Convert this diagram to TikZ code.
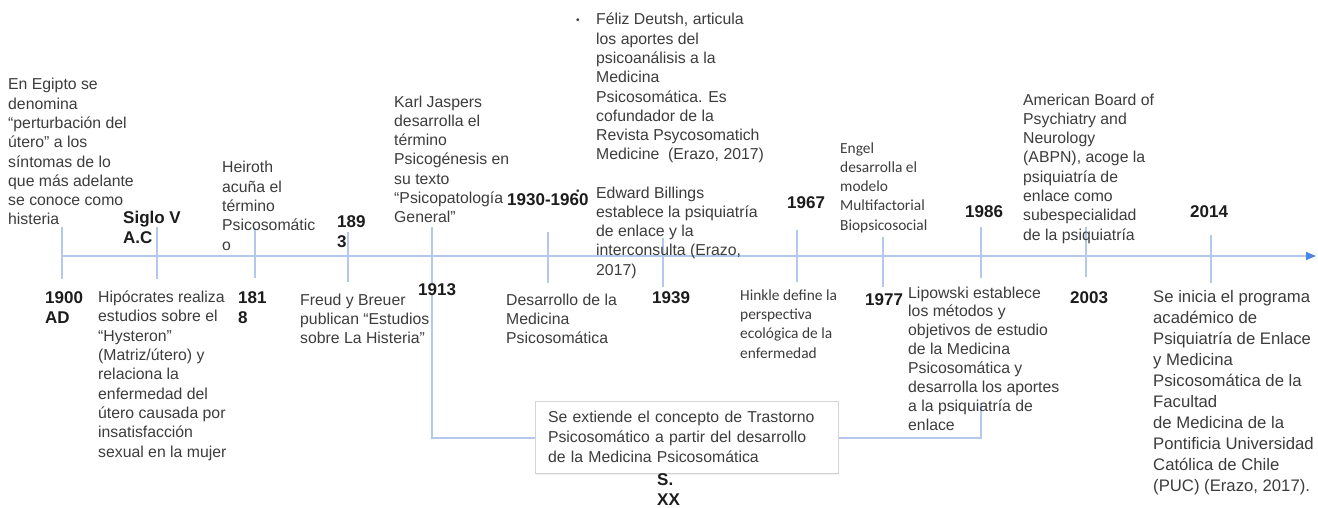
\documentclass[tikz,border=0pt]{standalone}
\usepackage{fontspec}
\setmainfont{Liberation Sans}
\newfontfamily\calfont{Carlito}
\usetikzlibrary{arrows.meta,shadows}
\definecolor{lineblue}{HTML}{B4C8EC}
\definecolor{tipblue}{HTML}{4A86E8}
\definecolor{txtgray}{HTML}{3C3C3C}
\definecolor{yeargray}{HTML}{1C1C1C}
\definecolor{boxgray}{HTML}{D4D4D4}
\begin{document}
\begin{tikzpicture}[x=1pt,y=-1pt]
        \tikzstyle{event}=[anchor=base west,align=left,inner sep=0pt,text=txtgray,font=\fontsize{15.8}{19.3}\selectfont]
        \tikzstyle{small}=[event,font=\calfont\fontsize{15.4}{19.3}\selectfont]
        \tikzstyle{year}=[anchor=base west,align=left,inner sep=0pt,text=yeargray,font=\bfseries\fontsize{17}{20}\selectfont]
        \tikzstyle{tick}=[draw=lineblue,line width=1.2pt]
        \tikzstyle{note}=[draw=boxgray,fill=white,line width=0.8pt,text width=277pt,align=left,inner xsep=13pt,minimum height=72pt,
          text=txtgray,font=\fontsize{15.8}{20}\selectfont,drop shadow={opacity=0.12,shadow xshift=1pt,shadow yshift=-1.5pt}]
        \useasboundingbox (0,0) rectangle (1318,508);
        % axis and ticks
        \coordinate (start) at (62,256);
        \coordinate (end) at (1316,256);
        \draw[tick,-{Triangle[length=10pt,width=8pt,color=tipblue]}] (start) -- (end);
        \foreach \x/\t/\b in {62/227/279,157/227/279,255/228/278,348/232/282,548/232/283,663/238/287,
                              797/230/282,883/237/287,981/227/278,1086/227/277,1211/235/283}
           \draw[tick] (\x,\t) -- (\x,\b);
        % bracket to the box
        \coordinate (lt) at (432,227);
        \coordinate (lb) at (432,438);
        \coordinate (rb) at (981,438);
        \coordinate (rt) at (981,403);
        \draw[tick] (lt) -- (lb) -- (rb) -- (rt);
        \node[note] (trastorno) at (686.5,437) {Se extiende el concepto de Trastorno\\Psicosomático a partir del desarrollo\\de la Medicina Psicosomática};

        % years (base = last line)
        \node[year] (y1900) at (45,323) {1900\\AD};
        \node[year] (sigloV) at (123,243) {Siglo V\\A.C};
        \node[year] (y1818) at (238,323) {181\\8};
        \node[year] (y1893) at (337,247) {189\\3};
        \node[year,fill=white] (y1913) at (418,295) {1913};
        \node[year] (y1930) at (507,205) {1930-1960};
        \node[year] (y1939) at (652,303) {1939};
        \node[year] (y1967) at (787,208) {1967};
        \node[year] (y1977) at (865,305) {1977};
        \node[year] (y1986) at (965,217) {1986};
        \node[year] (y2003) at (1070,303) {2003};
        \node[year] (y2014) at (1190,217) {2014};
        \node[year] (sxx) at (657,505) {S.\\XX};

        % events (base = last line)
        \node[event] (egipto) at (8,225) {En Egipto se\\denomina\\“perturbación del\\útero” a los\\síntomas de lo\\que más adelante\\se conoce como\\histeria};
        \node[event] (hipocrates) at (98,457) {Hipócrates realiza\\estudios sobre el\\“Hysteron”\\(Matriz/útero) y\\relaciona la\\enfermedad del\\útero causada por\\insatisfacción\\sexual en la mujer};
        \node[event] (heiroth) at (222,250) {Heiroth\\acuña el\\término\\Psicosomátic\\o};
        \node[event] (freud) at (300,343.6) {Freud y Breuer\\publican “Estudios\\sobre La Histeria”};
        \node[event] (jaspers) at (394,222.8) {Karl Jaspers\\desarrolla el\\término\\Psicogénesis en\\su texto\\“Psicopatología\\General”};
        \node[event] (desarrollo) at (506,343.6) {Desarrollo de la\\Medicina\\Psicosomática};
        \node[event,font=\fontsize{10}{12}\selectfont] (bulA) at (576,24) {•};
        \node[event] (deutsch) at (596,160) {Féliz Deutsh, articula\\los aportes del\\psicoanálisis a la\\Medicina\\Psicosomática. Es\\cofundador de la\\Revista Psycosomatich\\Medicine~ (Erazo, 2017)};
        \node[event,font=\fontsize{10}{12}\selectfont] (bulB) at (576,195) {•};
        \node[event] (billings) at (596,275.2) {Edward Billings\\establece la psiquiatría\\de enlace y la\\interconsulta (Erazo,\\2017)};
        \node[small] (hinkle) at (740,358) {Hinkle define la\\perspectiva\\ecológica de la\\enfermedad};
        \node[small] (engel) at (840,230.2) {Engel\\desarrolla el\\modelo\\Multifactorial\\Biopsicosocial};
        \node[event,font=\fontsize{15.8}{18.9}\selectfont] (lipowski) at (908,430.3) {Lipowski establece\\los métodos y\\objetivos de estudio\\de la Medicina\\Psicosomática y\\desarrolla los aportes\\a la psiquiatría de\\enlace};
        \node[event] (abpn) at (1023,240.1) {American Board of\\Psychiatry and\\Neurology\\(ABPN), acoge la\\psiquiatría de\\enlace como\\subespecialidad\\de la psiquiatría};
        \node[event,font=\fontsize{16.7}{20.9}\selectfont] (puc) at (1153,491) {Se inicia el programa\\académico de\\Psiquiatría de Enlace\\y Medicina\\Psicosomática de la\\Facultad\\de Medicina de la\\Pontificia Universidad\\Católica de Chile\\(PUC) (Erazo, 2017).};
      \end{tikzpicture}
\end{document}
